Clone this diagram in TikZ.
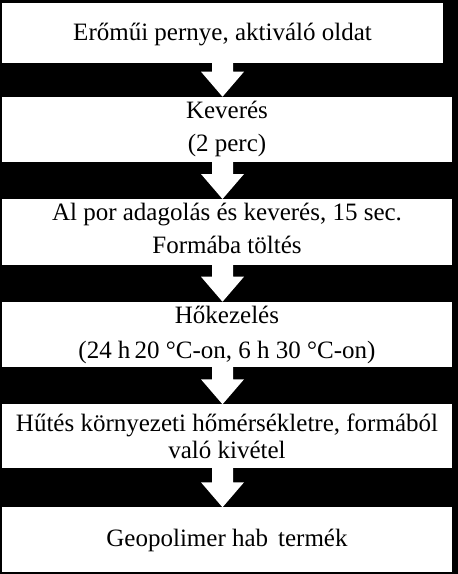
\documentclass[tikz,border=0pt]{standalone}
\usepackage{fontspec}
\setmainfont{Liberation Serif}
\usetikzlibrary{calc}
% #1 width, #2 height, #3 first baseline from top, #4 baselineskip, #5 text
\newcommand\boxtxt[5]{\parbox[t][#2pt][t]{#1pt}{\centering\baselineskip=#4pt\lineskiplimit=-100pt\lineskip=0pt\rule{0pt}{#3pt}#5\par}}
\tikzset{
  stepbox/.style={rectangle, fill=white, draw=none, inner sep=0pt, outer sep=0pt,
    anchor=north west, font=\fontsize{25}{30}\selectfont},
  arrowfill/.style={fill=white, draw=none}
}
\newcommand\flowarrow[2]{%
  \fill[arrowfill] ($(axis |- #1.south)+(-10.5,-0.5)$)
    -- ($(axis |- #2.north)+(-10.5,-25)$)
    -- ($(axis |- #2.north)+(-21.5,-25)$)
    -- (axis |- #2.north)
    -- ($(axis |- #2.north)+(21.5,-25)$)
    -- ($(axis |- #2.north)+(10.5,-25)$)
    -- ($(axis |- #1.south)+(10.5,-0.5)$) -- cycle;}
\begin{document}
\begin{tikzpicture}[x=1pt,y=-1pt]
  \fill[black] (0,0) rectangle (458,574);
  \useasboundingbox (0,0) rectangle (458,574);
  \coordinate (axis) at (222.5,0);
  \node[stepbox] (b1) at (2,3) {\boxtxt{441}{60.3}{37}{30}{Erőműi pernye, aktiváló oldat}};
  \node[stepbox] (b2) at (2,96.7) {\boxtxt{450}{65}{21.6}{33.4}{Keverés\\(2 perc)}};
  \node[stepbox] (b3) at (2,199) {\boxtxt{450}{66}{21.7}{32.6}{Al por adagolás és keverés, 15 sec.\\Formába töltés}};
  \node[stepbox] (b4) at (2,301.7) {\boxtxt{450}{65}{21.6}{35}{Hőkezelés\\(24 h\hspace{-2pt} 20 °C-on, 6 h 30 °C-on)}};
  \node[stepbox] (b5) at (2,404.3) {\boxtxt{450}{64}{27.4}{26.6}{Hűtés környezeti hőmérsékletre, formából\\való kivétel}};
  \node[stepbox] (b6) at (2,507.3) {\boxtxt{450}{64.4}{39.4}{30}{Geopolimer hab\hspace{10pt}termék}};
  \flowarrow{b1}{b2}
  \flowarrow{b2}{b3}
  \flowarrow{b3}{b4}
  \flowarrow{b4}{b5}
  \flowarrow{b5}{b6}
\end{tikzpicture}
\end{document}
